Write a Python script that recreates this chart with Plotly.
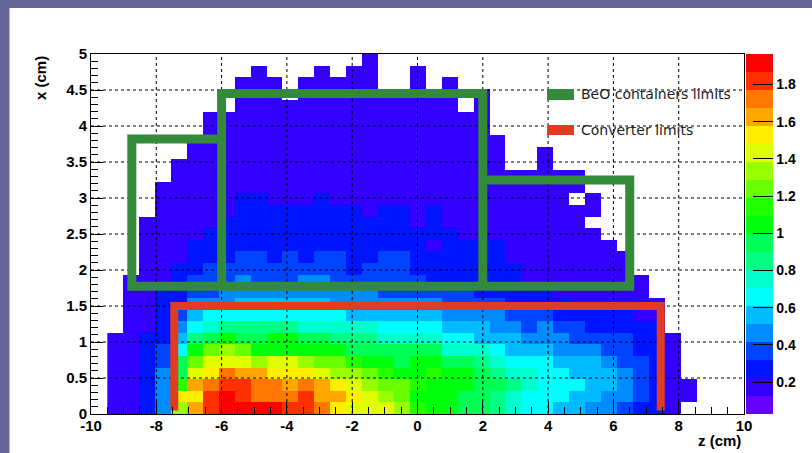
import plotly.graph_objects as go

# ---------------- data ----------------
# bin edges of the 2D histogram (horizontal: z, vertical: x)
z_edges = [-9.5 + 0.4875 * i for i in range(41)]
x_edges = [5.0 * j / 31 for j in range(32)]

# colour-band level of every cell (row 0 = bottom)
# '.' empty, 0-9 / a-j -> band 0..19 of the 20-band palette
level_rows = [
    "1124" "dgij" "jjji" "ihfe" "eedb" "aa99" "8766" "5544" "3221" "....",  # r0
    "1124" "ffij" "ihhh" "iggf" "edca" "aa99" "8766" "6554" "4321" "1...",  # r1
    "1124" "bghi" "ihhg" "hgfe" "dccb" "aaa9" "9876" "6655" "4321" "1...",  # r2
    "1124" "9efh" "ggff" "fedd" "cbaa" "baa9" "8776" "6555" "4321" "....",  # r3
    "1123" "9cee" "edee" "dccb" "aa9a" "a998" "7666" "5554" "3321" "....",  # r4
    "1123" "6acd" "caaa" "aaa9" "9999" "9777" "6555" "4443" "3221" "....",  # r5
    "1122" "589a" "99aa" "9988" "8777" "7665" "5544" "4333" "3221" "....",  # r6
    ".112" "4678" "8888" "7777" "7666" "6555" "4434" "3322" "222." "....",  # r7
    ".112" "3566" "6666" "6665" "5555" "5444" "4333" "2222" "211." "....",  # r8
    ".112" "2444" "5555" "5544" "4444" "4333" "3222" "2111" "111." "....",  # r9
    ".112" "2334" "4444" "4444" "4333" "3332" "2222" "1111" "11.." "....",  # r10
    ".111" "2333" "4333" "4433" "3333" "2222" "2211" "1111" "11.." "....",  # r11
    "..11" "2233" "3333" "3332" "3332" "2222" "2211" "1111" "1..." "....",  # r12
    "..11" "1222" "3323" "2332" "2332" "2222" "2111" "1111" "1..." "....",  # r13
    "..11" "1222" "2222" "2222" "2222" "1222" "2111" "1111" "...." "....",  # r14
    "..11" "1122" "2222" "2222" "2222" "2211" "1111" "111." "...." "....",  # r15
    "..11" "1112" "2222" "2222" "2221" "2111" "1111" "11.." "...." "....",  # r16
    "...1" "1111" "2222" "2222" "1221" "2111" "1111" "111." "...." "....",  # r17
    "...1" "1111" "2211" "1211" "1111" "1111" "1111" "1.1." "...." "....",  # r18
    "...1" "1111" "1111" "1111" "1111" "1111" "1111" "11.." "...." "....",  # r19
    "...." "1111" "1111" "1111" "1111" "1111" "1111" "11.." "...." "....",  # r20
    "...." "1111" "1111" "1111" "1111" "1111" "1..1" "...." "...." "....",  # r21
    "...." ".111" "1111" "1111" "1111" "1111" "1..1" "...." "...." "....",  # r22
    "...." ".111" "1111" "1111" "1111" "1111" "1..." "...." "...." "....",  # r23
    "...." "..11" "1111" "1111" "1111" "1111" "...." "...." "...." "....",  # r24
    "...." "..11" "1111" "1111" "1111" "1111" "...." "...." "...." "....",  # r25
    "...." "...." "1111" "1111" "1111" "11.1" "...." "...." "...." "....",  # r26
    "...." "...." "111." "1111" "1111" "11.1" "...." "...." "...." "....",  # r27
    "...." "...." "111." "1111" "1..1" ".1.." "...." "...." "...." "....",  # r28
    "...." "...." ".1.." ".1.1" "1..1" "...." "...." "...." "...." "....",  # r29
    "...." "...." "...." "...." "1..." "...." "...." "...." "...." "....",  # r30
]

z_min, z_max = 0.028, 1.964
n_bands = 20
colorbar_ticks = [0.2, 0.4, 0.6, 0.8, 1.0, 1.2, 1.4, 1.6, 1.8]
z_ticks = [-10, -8, -6, -4, -2, 0, 2, 4, 6, 8, 10]
x_ticks = [0, 0.5, 1, 1.5, 2, 2.5, 3, 3.5, 4, 4.5, 5]

# ROOT "pretty" palette, sampled for 20 contours
palette = ["#6300FF", "#3300FF", "#0014FF", "#0044FF", "#008BFF", "#00BBFF",
           "#00FFFC", "#00FFCC", "#00FF85", "#00FF55", "#00FF0E", "#22FF00",
           "#69FF00", "#99FF00", "#E0FF00", "#FFEE00", "#FFA700", "#FF7700",
           "#FF3000", "#FF0000"]

# geometry limits drawn on top
beo_z = [-6.0, -6.0, 2.0, 2.0, None,
         2.0, 6.5, 6.5, -8.75, -8.75, -6.0]
beo_x = [1.775, 4.45, 4.45, 1.775, None,
         3.25, 3.25, 1.775, 1.775, 3.82, 3.82]
conv_z = [-7.45, -7.45, 7.45, 7.45]
conv_x = [0.05, 1.5, 1.5, 0.05]

legend_labels = ["BeO containers limits", "Converter limits"]

# ---------------- figure ----------------
codes = "0123456789abcdefghij"
dz = (z_max - z_min) / n_bands
values = [[None if ch == "." else z_min + (codes.index(ch) + 0.5) * dz for ch in row]
          for row in level_rows]

colorscale = []
for k, c in enumerate(palette):
    colorscale.append([k / n_bands, c])
    colorscale.append([(k + 1) / n_bands, c])

W, H = 812, 453
L, R, T, B = 91, 68, 54, 39
PW, PH = W - L - R, H - T - B


def px(xp):
    return (xp - L) / PW


def py(yp):
    return (H - B - yp) / PH


def fmt(v):
    return f"{v:g}"


bold = dict(family="Liberation Sans, Arial, sans-serif", size=15, color="black", weight="bold")

fig = go.Figure()
fig.add_trace(go.Heatmap(
    x=z_edges, y=x_edges, z=values, zmin=z_min, zmax=z_max,
    colorscale=colorscale, hoverongaps=False,
    colorbar=dict(x=px(746), xanchor="left", xpad=0, y=0.5, yanchor="middle",
                  len=1, lenmode="fraction", ypad=0, thickness=27, thicknessmode="pixels",
                  outlinewidth=0, tickmode="array", tickvals=colorbar_ticks,
                  ticktext=[fmt(v) for v in colorbar_ticks],
                  ticks="inside", ticklen=20, tickwidth=1, tickcolor="black",
                  tickfont=dict(bold, size=14)),
))

# dotted grid drawn over the histogram
gx, gy = [], []
for v in z_ticks[1:-1]:
    gx += [v, v, None]
    gy += [x_ticks[0], x_ticks[-1], None]
for v in x_ticks[1:-1]:
    gx += [z_ticks[0], z_ticks[-1], None]
    gy += [v, v, None]
fig.add_trace(go.Scatter(x=gx, y=gy, mode="lines", hoverinfo="skip", showlegend=False,
                         line=dict(color="black", width=1, dash="dot")))

fig.add_trace(go.Scatter(x=beo_z, y=beo_x, mode="lines", name=legend_labels[0],
                         showlegend=False, line=dict(color="#338A3B", width=9)))
fig.add_trace(go.Scatter(x=conv_z, y=conv_x, mode="lines", name=legend_labels[1],
                         showlegend=False, line=dict(color="#E03C22", width=8)))

shapes = [
    # window frame (left and top bands)
    dict(type="rect", xref="paper", yref="paper", x0=px(-5), x1=px(9.5), y0=py(460), y1=py(-5),
         fillcolor="#666699", line=dict(width=0), layer="below"),
    dict(type="rect", xref="paper", yref="paper", x0=px(-5), x1=px(820), y0=py(8), y1=py(-5),
         fillcolor="#666699", line=dict(width=0), layer="below"),
    # legend swatches
    dict(type="rect", xref="paper", yref="paper", x0=px(547), x1=px(574), y0=py(100), y1=py(89),
         fillcolor="#338A3B", line=dict(width=0)),
    dict(type="rect", xref="paper", yref="paper", x0=px(547), x1=px(574), y0=py(135), y1=py(125),
         fillcolor="#E03C22", line=dict(width=0)),
]

legend_font = dict(family="DejaVu Sans, sans-serif", size=14, color="#222222")
annotations = [
    dict(text=legend_labels[0], xref="paper", yref="paper", x=px(579), y=py(94),
         xanchor="left", yanchor="middle", showarrow=False, font=legend_font),
    dict(text=legend_labels[1], xref="paper", yref="paper", x=px(579), y=py(130),
         xanchor="left", yanchor="middle", showarrow=False, font=legend_font),
    dict(text="x (cm)", xref="paper", yref="paper", x=px(40), y=py(54),
         xanchor="center", yanchor="top", textangle=-90, showarrow=False, font=bold),
    dict(text="z (cm)", xref="paper", yref="paper", x=px(743), y=py(440),
         xanchor="right", yanchor="middle", showarrow=False, font=bold),
]

fig.update_layout(
    width=W, height=H,
    margin=dict(l=L, r=R, t=T, b=B, pad=0, autoexpand=False),
    paper_bgcolor="white", plot_bgcolor="white",
    shapes=shapes, annotations=annotations, showlegend=False,
    xaxis=dict(range=[z_ticks[0], z_ticks[-1]], tickmode="array", tickvals=z_ticks,
               ticktext=[fmt(v) for v in z_ticks],
               ticks="inside", ticklen=12, tickwidth=1, tickcolor="black",
               showline=True, linecolor="black", linewidth=1, mirror=True,
               showgrid=False, zeroline=False, tickfont=bold, ticklabelstandoff=-2,
               minor=dict(ticks="inside", ticklen=7, tickcolor="black",
                          tickmode="linear", tick0=0, dtick=0.5, showgrid=False)),
    yaxis=dict(range=[x_ticks[0], x_ticks[-1]], tickmode="array", tickvals=x_ticks,
               ticktext=[fmt(v) for v in x_ticks],
               ticks="inside", ticklen=12, tickwidth=1, tickcolor="black",
               showline=True, linecolor="black", linewidth=1, mirror=True,
               showgrid=False, zeroline=False, tickfont=bold,
               minor=dict(ticks="inside", ticklen=7, tickcolor="black",
                          tickmode="linear", tick0=0, dtick=0.1, showgrid=False)),
)

fig.write_html("out.html")
